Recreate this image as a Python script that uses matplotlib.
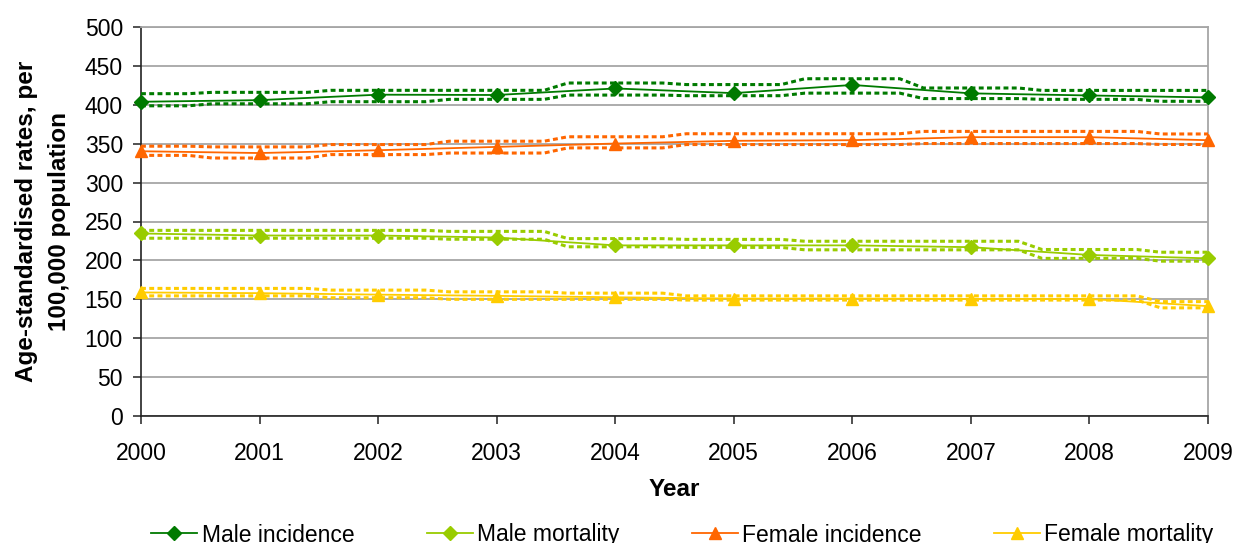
import matplotlib
matplotlib.use("Agg")
import matplotlib.pyplot as plt
import numpy as np

plt.rcParams['font.family'] = ['Liberation Sans', 'DejaVu Sans']

years = [2000, 2001, 2002, 2003, 2004, 2005, 2006, 2007, 2008, 2009]

male_inc = [403.9, 406, 413, 412.6, 421, 415, 425.5, 414.7, 412, 409.5]
male_inc_hi = [414.3, 416, 418.6, 418.6, 428, 426, 433.5, 421.6, 418.5, 418.5]
male_inc_lo = [398.7, 401.3, 404, 407, 412.5, 411.7, 415, 408, 407, 404.5]

male_mort = [234.6, 232, 232, 229.4, 219.3, 219.3, 219.3, 217, 207, 202.6]
male_mort_hi = [238.6, 238.6, 238.6, 237.3, 228, 227, 224.6, 224.6, 214, 210.5]
male_mort_lo = [228.5, 228.5, 228.5, 227.2, 217.5, 216.7, 213.6, 213.6, 202.6, 199]

fem_inc = [340.3, 338, 341.6, 345.9, 350.2, 353.7, 354.5, 358.4, 358.4, 354.5]
fem_inc_hi = [346.8, 345.9, 348.9, 353.2, 358.9, 362.8, 362.8, 365.8, 365.8, 362.5]
fem_inc_lo = [335, 331.6, 336, 338, 344.6, 348.9, 348.9, 350.2, 350.2, 349]

fem_mort = [158.8, 157.9, 156, 154.4, 152.6, 150.9, 150.9, 150.4, 150.4, 141.2]
fem_mort_hi = [164, 164, 161.8, 159.6, 157.9, 154.4, 154.4, 154.4, 154.4, 147]
fem_mort_lo = [154.4, 154.4, 152, 150, 150, 149, 149, 149, 149, 139]

series = [
    ("Male incidence", male_inc, male_inc_hi, male_inc_lo, "#007A00", "D"),
    ("Male mortality", male_mort, male_mort_hi, male_mort_lo, "#99CC00", "D"),
    ("Female incidence", fem_inc, fem_inc_hi, fem_inc_lo, "#FF6600", "^"),
    ("Female mortality", fem_mort, fem_mort_hi, fem_mort_lo, "#FFCC00", "^"),
]


def plateau(xs, vs, h=0.4):
    px, py = [], []
    for x, v in zip(xs, vs):
        px += [max(x - h, xs[0]), min(x + h, xs[-1])]
        py += [v, v]
    return px, py


fig = plt.figure(figsize=(12.35, 5.43), dpi=100)
ax = fig.add_axes([141 / 1235, 127 / 543, 1067 / 1235, 389 / 543])

handles = []
for name, vals, hi, lo, col, mk in series:
    for band in (hi, lo):
        bx, by = plateau(years, band)
        ax.plot(bx, by, color=col, lw=2.2, linestyle=(0, (1.6, 1.1)), zorder=3)
    ms = 7 if mk == "D" else 8.5
    h, = ax.plot(years, vals, color=col, lw=1.3, marker=mk, markersize=ms,
                 markeredgecolor=col, markerfacecolor=col, clip_on=False,
                 zorder=4, label=name)
    handles.append(h)

ax.set_xlim(2000, 2009)
ax.set_ylim(0, 500)
ax.set_yticks(np.arange(0, 501, 50))
ax.set_xticks(years)
ax.set_xticklabels([str(y) for y in years])
ax.grid(axis='y', color='#A6A6A6', lw=1.3)
ax.set_axisbelow(True)

for s in ('top', 'right'):
    ax.spines[s].set_color('#A6A6A6')
    ax.spines[s].set_linewidth(1.3)
for s in ('left', 'bottom'):
    ax.spines[s].set_color('#222222')
    ax.spines[s].set_linewidth(1.2)

ax.tick_params(axis='y', length=6, width=1.1, pad=7, labelsize=16.5, colors='#222222')
ax.tick_params(axis='x', length=6, width=1.1, pad=13, labelsize=16.5, colors='#222222')
for lab in ax.get_xticklabels() + ax.get_yticklabels():
    lab.set_color('black')

ax.set_xlabel("Year", fontsize=17.5, fontweight='bold', labelpad=9)
ax.set_ylabel("Age-standardised rates, per\n100,000 population", fontsize=17.5,
              fontweight='bold', labelpad=10, linespacing=1.55)

fig.legend(handles=handles, loc='center', bbox_to_anchor=(0.5526, 8 / 543), ncol=4,
           frameon=False, fontsize=16.5, handlelength=2.0, handletextpad=0.2,
           columnspacing=3.15, borderaxespad=0)

fig.savefig("out.png", dpi=100)
